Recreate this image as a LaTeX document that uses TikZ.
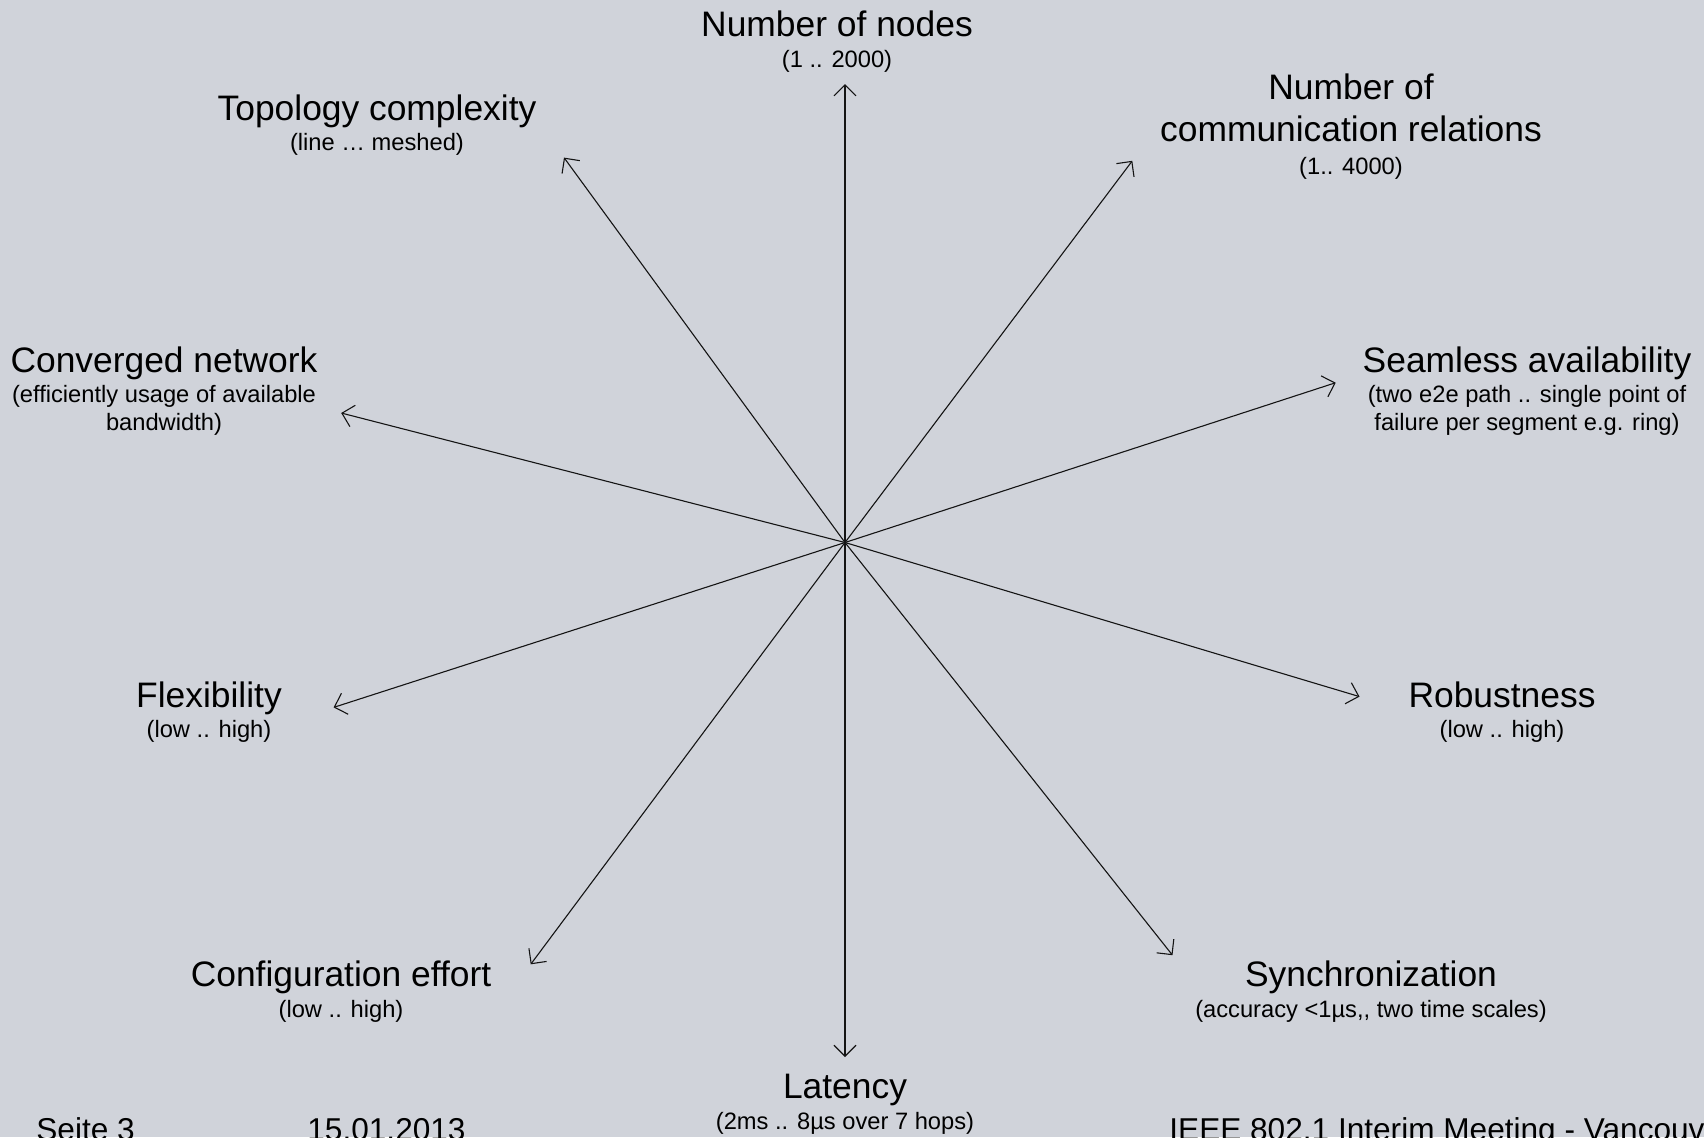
\documentclass[tikz,border=0pt]{standalone}
\usepackage{fontspec}
\setmainfont{Liberation Sans}
\usetikzlibrary{arrows.meta}
\definecolor{bg}{RGB}{208,211,218}
\definecolor{ink}{RGB}{20,20,20}
\tikzset{
  ttl/.style={anchor=base, inner sep=0pt, font=\fontsize{17.7}{21}\selectfont, text=black},
  sub/.style={anchor=base, inner sep=0pt, font=\fontsize{11.85}{14}\selectfont, text=black},
  foot/.style={anchor=base west, inner sep=0pt, font=\fontsize{15.8}{19}\selectfont, text=black},
  axis/.style={draw=ink, line width=0.55pt, -{Straight Barb[length=5.5pt,width=11pt,line width=0.55pt]}}
}
\begin{document}
\begin{tikzpicture}[x=0.5pt,y=-0.5pt]
\useasboundingbox (0,0) rectangle (1704,1137);
\clip (0,0) rectangle (1704,1137);
\fill[bg] (0,0) rectangle (1704,1137);
% centre and axis ends
\coordinate (c) at (845,542.5);
\coordinate (eN) at (845,84);
\coordinate (eS) at (845,1057);
\coordinate (eTL) at (564,157.6);
\coordinate (eTR) at (1132.3,160.8);
\coordinate (eL) at (341.2,413);
\coordinate (eR) at (1335.7,382.7);
\coordinate (eLL) at (333.6,707.4);
\coordinate (eRL) at (1359.5,696.6);
\coordinate (eBL) at (530.7,964.3);
\coordinate (eBR) at (1172.5,955.2);
\foreach \e in {eN,eS,eTL,eTR,eL,eR,eLL,eRL,eBL,eBR}
  \draw[axis] (c) -- (\e);
% labels
\node[ttl] (nn) at (837,36) {Number of nodes};
\node[sub] (nns) at (837,67) {(1 .. 2000)};
\node[ttl] (tc) at (377,120) {Topology complexity};
\node[sub] (tcs) at (377,150) {(line … meshed)};
\node[ttl] (cr1) at (1351,99) {Number of};
\node[ttl] (cr2) at (1351,141) {communication relations};
\node[sub] (crs) at (1351,174) {(1.. 4000)};
\node[ttl] (sa) at (1527,372) {Seamless availability};
\node[sub] (sa1) at (1527,402) {(two e2e path .. single point of};
\node[sub] (sa2) at (1527,430) {failure per segment e.g. ring)};
\node[ttl] (cn) at (164,372) {Converged network};
\node[sub] (cn1) at (164,402) {(efficiently usage of available};
\node[sub] (cn2) at (164,430) {bandwidth)};
\node[ttl] (fl) at (209,707) {Flexibility};
\node[sub] (fls) at (209,737) {(low .. high)};
\node[ttl] (rb) at (1502,707) {Robustness};
\node[sub] (rbs) at (1502,737) {(low .. high)};
\node[ttl] (ce) at (341,986) {Configuration effort};
\node[sub] (ces) at (341,1017) {(low .. high)};
\node[ttl] (sy) at (1371,986) {Synchronization};
\node[sub] (sys) at (1371,1017) {(accuracy <1µs,{},{} two time scales)};
\node[ttl] (la) at (845,1098) {Latency};
\node[sub] (las) at (845,1129) {(2ms .. 8µs over 7 hops)};
% footer
\node[foot] (f1) at (36,1140) {Seite 3};
\node[foot] (f2) at (307,1140) {15.01.2013};
\node[foot] (f3) at (1169,1140) {IEEE 802.1 Interim Meeting - Vancouver};
\end{tikzpicture}
\end{document}
